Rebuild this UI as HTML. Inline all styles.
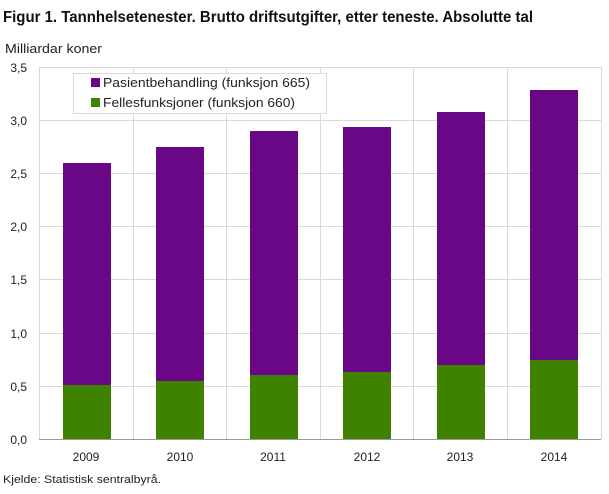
<!DOCTYPE html>
<html><head><meta charset="utf-8"><style>body{margin:0;background:#fff}</style></head><body>
<svg width="609" height="489" xmlns="http://www.w3.org/2000/svg" font-family="Liberation Sans, DejaVu Sans, sans-serif">
<rect width="609" height="489" fill="#fff"/>
<text x="3" y="22" font-size="16" font-weight="bold" fill="#111" textLength="530" lengthAdjust="spacingAndGlyphs">Figur 1. Tannhelsetenester. Brutto driftsutgifter, etter teneste. Absolutte tal</text>
<text x="5" y="53" font-size="12.5" fill="#222" textLength="97" lengthAdjust="spacingAndGlyphs">Milliardar  koner</text>
<g stroke="#d9d9d9" stroke-width="1">
<line x1="39" y1="67.5" x2="601" y2="67.5"/><line x1="39" y1="120.5" x2="601" y2="120.5"/><line x1="39" y1="173.5" x2="601" y2="173.5"/><line x1="39" y1="226.5" x2="601" y2="226.5"/><line x1="39" y1="279.5" x2="601" y2="279.5"/><line x1="39" y1="333.5" x2="601" y2="333.5"/><line x1="39" y1="386.5" x2="601" y2="386.5"/>
<line x1="39.5" y1="67" x2="39.5" y2="439"/><line x1="133.5" y1="67" x2="133.5" y2="439"/><line x1="226.5" y1="67" x2="226.5" y2="439"/><line x1="320.5" y1="67" x2="320.5" y2="439"/><line x1="413.5" y1="67" x2="413.5" y2="439"/><line x1="507.5" y1="67" x2="507.5" y2="439"/><line x1="601.5" y1="67" x2="601.5" y2="439"/>
</g>
<line x1="39" y1="439.5" x2="601" y2="439.5" stroke="#999"/>
<g font-size="12" fill="#222" text-anchor="end">
<text x="27" y="72">3,5</text><text x="27" y="125">3,0</text><text x="27" y="178">2,5</text><text x="27" y="231">2,0</text><text x="27" y="284">1,5</text><text x="27" y="338">1,0</text><text x="27" y="391">0,5</text><text x="27" y="444">0,0</text>
</g>
<g fill="#6a0787">
<rect x="63" y="163" width="48" height="222"/><rect x="156" y="147" width="48" height="234"/><rect x="250" y="131" width="48" height="244"/><rect x="343" y="127" width="48" height="245"/><rect x="437" y="112" width="48" height="253"/><rect x="530" y="90" width="48" height="270"/>
</g>
<g fill="#3f8200">
<rect x="63" y="385" width="48" height="54"/><rect x="156" y="381" width="48" height="58"/><rect x="250" y="375" width="48" height="64"/><rect x="343" y="372" width="48" height="67"/><rect x="437" y="365" width="48" height="74"/><rect x="530" y="360" width="48" height="79"/>
</g>
<g font-size="12" fill="#222" text-anchor="middle">
<text x="86" y="461">2009</text><text x="180" y="461">2010</text><text x="273" y="461">2011</text><text x="367" y="461">2012</text><text x="460" y="461">2013</text><text x="554" y="461">2014</text>
</g>
<rect x="73.5" y="73.5" width="253" height="40" fill="#fff" stroke="#d9d9d9"/>
<rect x="91" y="78" width="9" height="9" fill="#6a0787"/>
<text x="103" y="87" font-size="12.5" fill="#222" textLength="207" lengthAdjust="spacingAndGlyphs">Pasientbehandling (funksjon 665)</text>
<rect x="91" y="98" width="9" height="9" fill="#3f8200"/>
<text x="103" y="107" font-size="12.5" fill="#222" textLength="192" lengthAdjust="spacingAndGlyphs">Fellesfunksjoner (funksjon 660)</text>
<text x="3" y="483" font-size="11" fill="#222" textLength="158" lengthAdjust="spacingAndGlyphs">Kjelde: Statistisk sentralbyrå.</text>
</svg>
</body></html>
